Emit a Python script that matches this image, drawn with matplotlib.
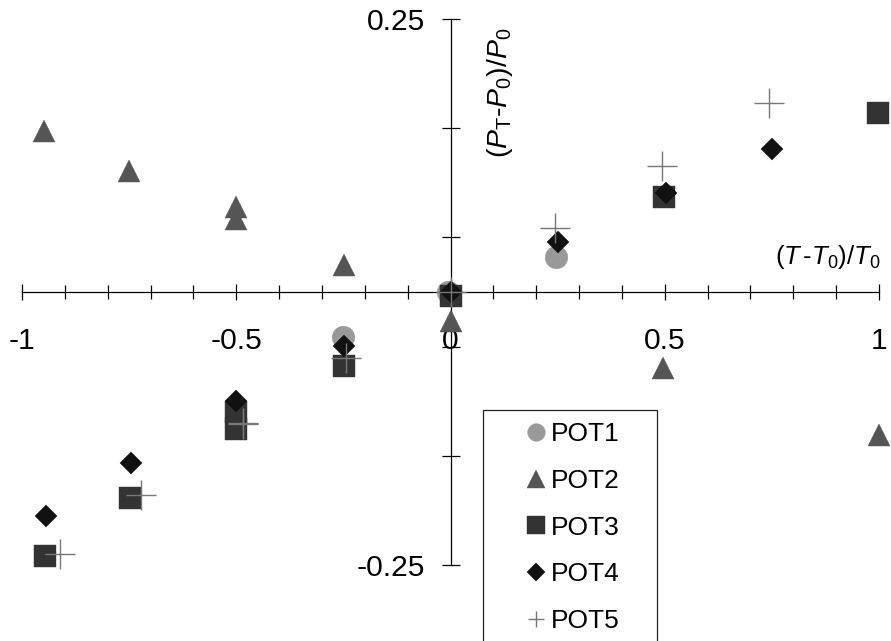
import numpy as np
import matplotlib
matplotlib.use("Agg")
import matplotlib.pyplot as plt
from matplotlib.ticker import FixedLocator, MultipleLocator

plt.rcParams['font.family'] = ['Liberation Sans', 'DejaVu Sans']
plt.rcParams['mathtext.fontset'] = 'custom'
plt.rcParams['mathtext.rm'] = 'Liberation Sans'
plt.rcParams['mathtext.it'] = 'Liberation Sans:italic'

# values
x_pot1 = [-0.25, -0.005, 0.247]
y_pot1 = [-0.041, 0.0, 0.032]

x_pot2 = [-0.948, -0.75, -0.5, -0.5, -0.249, 0.0, 0.497, 1.0]
y_pot2 = [0.147, 0.111, 0.078, 0.067, 0.025, -0.027, -0.070, -0.131]

x_pot3 = [-0.947, -0.749, -0.5, -0.5, -0.249, 0.0, 0.498, 0.998]
y_pot3 = [-0.2415, -0.189, -0.110, -0.1256, -0.0675, -0.004, 0.0873, 0.1636]

x_pot4 = [-0.945, -0.745, -0.5, -0.249, 0.0, 0.251, 0.502, 0.751]
y_pot4 = [-0.205, -0.157, -0.100, -0.049, 0.0, 0.0458, 0.0904, 0.1313]

x_pot5 = [-0.912, -0.723, -0.485, -0.485, -0.243, 0.0, 0.245, 0.4925, 0.743]
y_pot5 = [-0.2396, -0.186, -0.1197, -0.121, -0.060, 0.0, 0.0583, 0.1157, 0.1728]

labels = ['POT1', 'POT2', 'POT3', 'POT4', 'POT5']
xticks = [-1, -0.5, 0, 0.5, 1]
xticklabels = ['-1', '-0.5', '0', '0.5', '1']
yticks = [-0.25, -0.15, -0.05, 0.05, 0.15, 0.25]
yticklabels = ['-0.25', '', '', '', '', '0.25']

fig = plt.figure(figsize=(8.91, 6.41), dpi=100)
ax = fig.add_axes([22/891, 76/641, 857/891, 546/641])
ax.set_xlim(-1, 1)
ax.set_ylim(-0.25, 0.25)

ms = 16.3
ax.plot(x_pot1, y_pot1, 'o', ms=ms, color='#999999', mec='#999999', mew=0.3, label=labels[0], clip_on=False, zorder=3)
ax.plot(x_pot2, y_pot2, '^', ms=ms, color='#555555', mec='#555555', mew=0.3, label=labels[1], clip_on=False, zorder=3)
ax.plot(x_pot3, y_pot3, 's', ms=ms, color='#333333', mec='#333333', mew=0.3, label=labels[2], clip_on=False, zorder=3)
ax.plot(x_pot4, y_pot4, 'D', ms=11.5, color='#111111', mec='#111111', mew=0.3, label=labels[3], clip_on=False, zorder=3)
ax.plot(x_pot5, y_pot5, '+', ms=21, color='#777777', mew=1.0, label=labels[4], clip_on=False, zorder=3)

for s in ['top', 'right']:
    ax.spines[s].set_visible(False)
ax.spines['left'].set_position(('data', 0))
ax.spines['bottom'].set_position(('data', 0))
for s in ['left', 'bottom']:
    ax.spines[s].set_linewidth(0.9)
    ax.spines[s].set_zorder(1)

ax.xaxis.set_major_locator(FixedLocator(xticks))
ax.set_xticklabels(xticklabels)
ax.xaxis.set_minor_locator(MultipleLocator(0.1))
ax.yaxis.set_major_locator(FixedLocator(yticks))
ax.set_yticklabels(yticklabels)

ax.tick_params(axis='x', which='major', direction='inout', length=12, width=0.9, pad=19, labelsize=21.6)
ax.tick_params(axis='x', which='minor', direction='inout', length=10, width=0.9)
ax.tick_params(axis='y', which='major', direction='inout', length=13, width=0.9, pad=11.5, labelsize=21.6)

ax.text(1.003, 0.0254, r'$(\mathit{T}\,\text{-}\mathit{T}_{\mathrm{0}})/\mathit{T}_{\mathrm{0}}$',
        ha='right', va='baseline', fontsize=18.5)
ax.text(0.1155, 0.1827, r'$(\mathit{P}_{\mathrm{T}}\text{-}\mathit{P}_{\mathrm{0}})/\mathit{P}_{\mathrm{0}}$',
        ha='center', va='center', rotation=90, fontsize=20.5)

leg = ax.legend(loc='upper left', bbox_to_anchor=(483/891, 1 - 410/641 - 0.1, 174/891, 0.1),
                bbox_transform=fig.transFigure, mode='expand', borderaxespad=0,
                fontsize=19, markerscale=0.78, numpoints=1, handlelength=3.1,
                handletextpad=-0.98, labelspacing=0.86, borderpad=0.46,
                fancybox=False, framealpha=1)
leg.legend_handles[4].set_markersize(12)
leg.get_frame().set_edgecolor('#222222')
leg.get_frame().set_linewidth(0.9)

fig.savefig('out.png', dpi=100)
